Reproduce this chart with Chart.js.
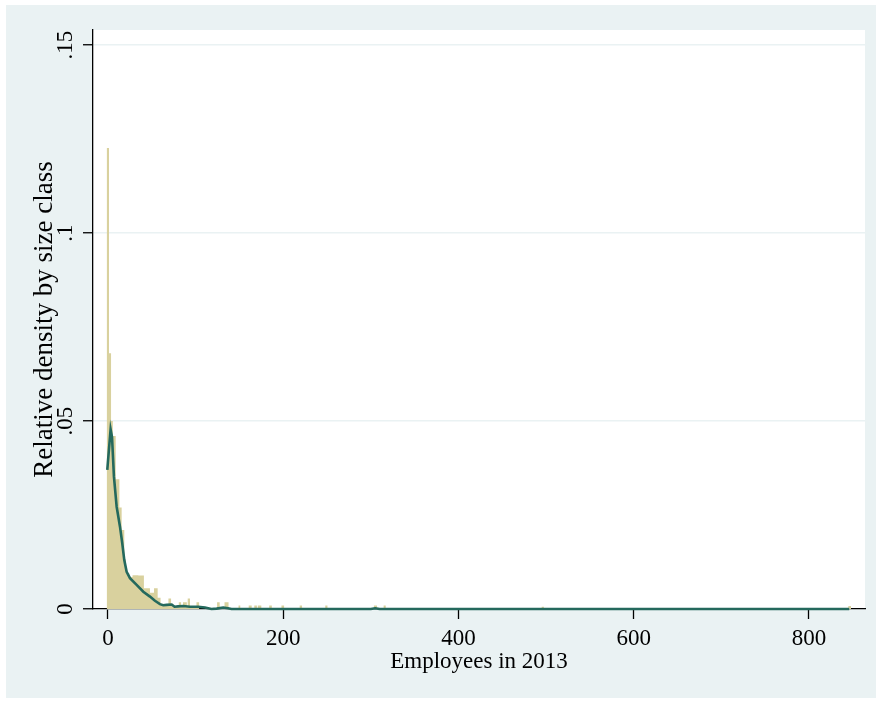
<!DOCTYPE html>
<html>
<head>
<meta charset="utf-8">
<script src="https://cdn.jsdelivr.net/npm/chart.js@4.4.0/dist/chart.umd.min.js"></script>
<style>
html, body { margin: 0; padding: 0; background: #fff; }
</style>
</head>
<body>
<canvas id="chart" width="886" height="703"></canvas>
<script>
// histogram bins (size classes): left edge, right edge, relative density
var binLeft   = [-1.5, 1.2, 3.5, 5.5, 8.8, 13, 15.6, 18.6, 20.5, 24.3, 28, 34.6, 41, 47.9, 52.5, 56.7, 60, 69, 72, 80.8, 83.4, 85.6, 90, 91, 93.6, 101, 124.5, 133, 149, 160.6, 167, 171, 184, 198, 218.8, 248, 303.5, 314.6, 495, 845];
var binRight  = [1.2, 3.5, 5.5, 8.8, 13, 15.6, 18.6, 20.5, 24.3, 28, 34.6, 41, 47.9, 52.5, 56.7, 60, 69, 72, 80.8, 83.4, 85.6, 90, 91, 93.6, 101, 104, 127.5, 137.6, 151, 164, 170, 175, 187, 201, 221.5, 250.5, 307, 317, 497.5, 848];
var binHeight = [0.1226, 0.068, 0.050, 0.046, 0.0345, 0.027, 0.021, 0.013, 0.0095, 0.0085, 0.0090, 0.0089, 0.0055, 0.0043, 0.0055, 0.003, 0.0012, 0.0028, 0.0008, 0.0018, 0.0008, 0.0018, 0.0008, 0.0028, 0.0006, 0.0018, 0.0018, 0.0018, 0.0009, 0.0009, 0.0009, 0.0009, 0.0009, 0.0009, 0.0009, 0.0009, 0.0009, 0.0009, 0.0006, 0.0008];

// kernel density line
var densityX = [-0.8, 3, 4.6, 6.8, 9.9, 13.7, 16.3, 18.6, 21.3, 25.1, 32.7, 40.3, 47.9, 53.6, 59.3, 63, 67, 72.7, 76, 80, 86, 93.6, 103, 110.7, 118, 124, 131.6, 137, 141, 200, 300, 305, 310, 400, 500, 600, 700, 846];
var densityY = [0.037, 0.0478, 0.0458, 0.0352, 0.0272, 0.0219, 0.0175, 0.013, 0.0099, 0.0082, 0.0064, 0.0046, 0.0033, 0.0022, 0.0013, 0.0010, 0.0011, 0.0012, 0.0006, 0.0007, 0.0008, 0.0006, 0.0006, 0.0004, 0, 0.0001, 0.0004, 0.0002, 0, 0, 0, 0.0002, 0, 0, 0, 0, 0, 0];

var xTicks = [0, 200, 400, 600, 800];
var yTicks = [0, 0.05, 0.1, 0.15];
var yTickLabels = ['0', '.05', '.1', '.15'];

var histPoints = [];
for (var i = 0; i < binLeft.length; i++) {
    histPoints.push({x: binLeft[i], y: binHeight[i]});
    histPoints.push({x: binRight[i], y: 0});
}
var densityPoints = densityX.map(function(x, i){ return {x: x, y: densityY[i]}; });

var serif = {family: "'Liberation Serif', 'DejaVu Serif', serif", size: 23};
var serifTitleY = {family: "'Liberation Serif', 'DejaVu Serif', serif", size: 27};

var background = {
    id: 'background',
    beforeDraw: function(chart){
        var ctx = chart.ctx, a = chart.chartArea;
        ctx.save();
        ctx.fillStyle = '#ffffff';
        ctx.fillRect(0, 0, chart.width, chart.height);
        ctx.fillStyle = '#EAF2F3';
        ctx.fillRect(6, 5, 870, 693);
        ctx.fillStyle = '#ffffff';
        ctx.fillRect(a.left, a.top, a.right - a.left, a.bottom - a.top);
        ctx.restore();
    }
};

var ctx = document.getElementById('chart').getContext('2d');
var myChart = new Chart(ctx, {
    type: 'line',
    data: {
        datasets: [{
            label: 'density',
            data: densityPoints,
            borderColor: '#24695D',
            borderWidth: 2.6,
            pointRadius: 0,
            tension: 0,
            fill: false,
            clip: false
        },
        {
            label: 'histogram',
            data: histPoints,
            stepped: true,
            borderWidth: 0,
            borderColor: 'rgba(0,0,0,0)',
            backgroundColor: '#D9D19E',
            pointRadius: 0,
            fill: 'origin'
        }]
    },
    options: {
        responsive: false,
        animation: false,
        layout: { padding: {left: 0, top: 30, right: 21, bottom: 0} },
        plugins: {
            legend: { display: false },
            tooltip: { enabled: false }
        },
        scales: {
            x: {
                type: 'linear',
                min: -17.1,
                max: 864,
                afterFit: function(s){ s.height = 94; },
                afterBuildTicks: function(s){ s.ticks = xTicks.map(function(v){ return {value: v}; }); },
                grid: { drawOnChartArea: false, tickColor: '#000', tickLength: 10, tickWidth: 1.3 },
                border: { color: '#000', width: 1.3 },
                ticks: { font: serif, color: '#000', padding: 6, maxRotation: 0, autoSkip: false },
                title: { display: true, text: 'Employees in 2013', font: serif, color: '#000', padding: {top: 0, bottom: 27} }
            },
            y: {
                min: 0,
                max: 0.154,
                afterFit: function(s){ s.width = 93; },
                afterBuildTicks: function(s){ s.ticks = yTicks.map(function(v){ return {value: v}; }); },
                grid: { color: '#EAF2F3', lineWidth: 1.5, tickColor: '#000', tickLength: 10, tickWidth: 1.3 },
                border: { color: '#000', width: 1.3 },
                ticks: {
                    font: serif, color: '#000', padding: 3,
                    minRotation: 90, maxRotation: 90, crossAlign: 'center', autoSkip: false,
                    callback: function(v, i){ return yTickLabels[i]; }
                },
                title: { display: true, text: 'Relative density by size class', font: serifTitleY, color: '#000', padding: {top: 29, bottom: 0} }
            }
        }
    },
    plugins: [background]
});
</script>
</body>
</html>
